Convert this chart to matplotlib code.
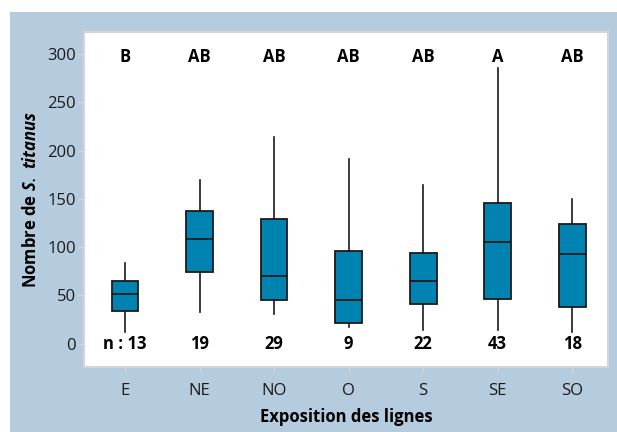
import matplotlib
matplotlib.use("Agg")
import matplotlib.pyplot as plt
from matplotlib.patches import Rectangle

categories = ["E", "NE", "NO", "O", "S", "SE", "SO"]
whisker_low = [12, 33, 31, 17, 14, 14, 12]
q1 = [34, 74, 45, 21, 41, 46, 38]
median = [51, 108, 70, 45, 65, 105, 93]
q3 = [65, 137, 129, 96, 94, 146, 124]
whisker_high = [84, 170, 214, 191, 164, 286, 150]
letters = ["B", "AB", "AB", "AB", "AB", "A", "AB"]
counts = ["n : 13", "19", "29", "9", "22", "43", "18"]
yticks = [0, 50, 100, 150, 200, 250, 300]

BG = "#B5CCDF"
BOX = "#0083B0"
SPINE = "#D4D4D4"

plt.rcParams["font.family"] = ["Open Sans", "DejaVu Sans"]
plt.rcParams["mathtext.fontset"] = "custom"
plt.rcParams["mathtext.it"] = "Open Sans:italic:bold"

fig = plt.figure(figsize=(6.17, 4.32), dpi=100)
fig.patch.set_facecolor("white")
fig.patches.append(Rectangle((10 / 617, 0), 1, 1 - 12 / 432, transform=fig.transFigure,
                             facecolor=BG, edgecolor="none", zorder=-10))

ax = fig.add_axes([84 / 617, 1 - 366.7 / 432, (608 - 84) / 617, (366.7 - 32) / 432])
ax.set_facecolor("white")

stats = []
for i, name in enumerate(categories):
    stats.append({"label": name, "whislo": whisker_low[i], "q1": q1[i], "med": median[i],
                  "q3": q3[i], "whishi": whisker_high[i], "fliers": []})

ax.bxp(stats, positions=range(1, len(categories) + 1), widths=0.36, patch_artist=True,
       showcaps=False, showfliers=False,
       boxprops=dict(facecolor=BOX, edgecolor="#1a1a1a", linewidth=1.3),
       medianprops=dict(color="#1a1a1a", linewidth=1.3),
       whiskerprops=dict(color="#1a1a1a", linewidth=1.2))

for i, (lab, n) in enumerate(zip(letters, counts)):
    ax.text(i + 1, 297, lab, ha="center", va="center", fontsize=12, fontweight="bold")
    ax.text(i + 1, 0, n, ha="center", va="center", fontsize=12, fontweight="bold")

ax.set_xlim(0.45, 7.48)
ax.set_ylim(-24, 323)
ax.set_yticks(yticks)
ax.set_xticks(range(1, len(categories) + 1))
ax.set_xticklabels(categories)
ax.tick_params(axis="both", colors=SPINE, labelcolor="#1a1a1a", labelsize=12, length=4, width=1)
ax.tick_params(axis="x", pad=8)
ax.tick_params(axis="y", pad=2)
for s in ax.spines.values():
    s.set_color(SPINE)
    s.set_linewidth(1.5)

ax.set_xlabel("Exposition des lignes", fontsize=12, fontweight="bold", labelpad=6)
ax.set_ylabel(r"Nombre de $\mathit{S.\ titanus}$", fontsize=12, fontweight="bold", labelpad=5)

fig.savefig("out.png", dpi=100)
